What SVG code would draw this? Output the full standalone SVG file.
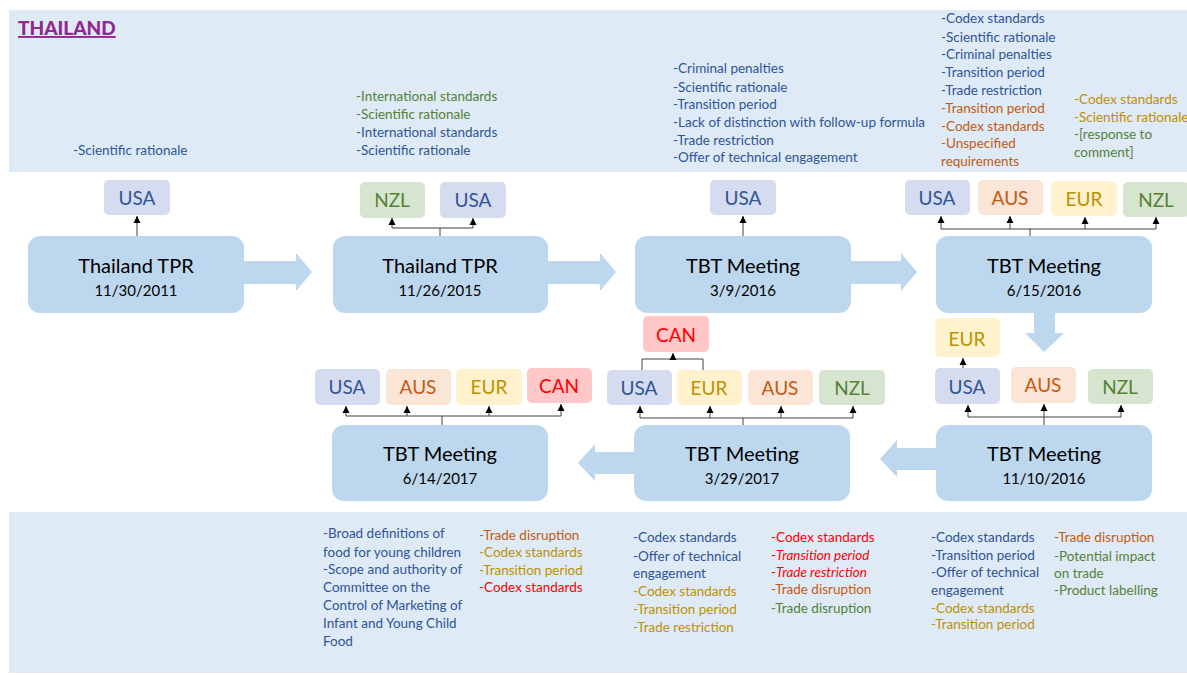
<svg xmlns="http://www.w3.org/2000/svg" width="1187" height="675" viewBox="0 0 1187 675">
<style>
.band{fill:#deeaf6}
.node{fill:#bdd7ee}
.big{fill:#bdd7ee}
.t1{font-family:Lato,"Liberation Sans",sans-serif;font-size:20px;fill:#000;text-anchor:middle}
.t2{font-family:Lato,"Liberation Sans",sans-serif;font-size:15px;fill:#000;text-anchor:middle}
.cty{font-family:Lato,"Liberation Sans",sans-serif;font-size:19px;text-anchor:middle}
.ann{font-family:Lato,"Liberation Sans",sans-serif;font-size:13.5px}
.usa{fill:#d6dcf0}.aus{fill:#fbe5d6}.eur{fill:#fff2cc}.nzl{fill:#d7e4d0}.can{fill:#ffc7c7}
.cb{fill:#2f5597}.co{fill:#c55a11}.cg{fill:#bf9000}.cn{fill:#548235}.cr{fill:#ff0000}
.ln{fill:none;stroke:#404040;stroke-width:1}
.ar{fill:none;stroke:#404040;stroke-width:1;marker-end:url(#ah)}
</style>
<defs>
<marker id="ah" markerWidth="8" markerHeight="8" refX="7" refY="4" orient="auto" markerUnits="userSpaceOnUse">
<path d="M0,0.5 L7,4 L0,7.5 Z" fill="#000"/>
</marker>
</defs>
<rect width="1187" height="675" fill="#fff"/>
<rect class="band" x="9" y="10" width="1178" height="162"/>
<rect class="band" x="9" y="512" width="1178" height="161"/>
<text x="18" y="35" font-family="Lato,'Liberation Sans',sans-serif" font-size="19" font-weight="900" fill="#92278f" text-decoration="underline">THAILAND</text>

<g id="annotations-top" class="ann">
<text x="73" y="155" class="cb">-Scientific rationale</text>
<text x="356" y="101" class="cn">-International standards</text>
<text x="356" y="119" class="cn">-Scientific rationale</text>
<text x="356" y="137" class="cb">-International standards</text>
<text x="356" y="155" class="cb">-Scientific rationale</text>
<text x="673" y="73" class="cb">-Criminal penalties</text>
<text x="673" y="92" class="cb">-Scientific rationale</text>
<text x="673" y="109" class="cb">-Transition period</text>
<text x="673" y="127" class="cb">-Lack of distinction with follow-up formula</text>
<text x="673" y="145" class="cb">-Trade restriction</text>
<text x="673" y="162" class="cb">-Offer of technical engagement</text>
<text x="941" y="23" class="cb">-Codex standards</text>
<text x="941" y="42" class="cb">-Scientific rationale</text>
<text x="941" y="59" class="cb">-Criminal penalties</text>
<text x="941" y="77" class="cb">-Transition period</text>
<text x="941" y="95" class="cb">-Trade restriction</text>
<text x="941" y="113" class="co">-Transition period</text>
<text x="941" y="131" class="co">-Codex standards</text>
<text x="941" y="148" class="co">-Unspecified</text>
<text x="941" y="166" class="co">requirements</text>
<text x="1074" y="104" class="cg">-Codex standards</text>
<text x="1074" y="122" class="cg">-Scientific rationale</text>
<text x="1074" y="139" class="cn">-[response to</text>
<text x="1074" y="157" class="cn">comment]</text>
</g>

<g id="annotations-bottom" class="ann">
<text x="323" y="538" class="cb">-Broad definitions of</text>
<text x="323" y="557" class="cb">food for young children</text>
<text x="323" y="574" class="cb">-Scope and authority of</text>
<text x="323" y="592" class="cb">Committee on the</text>
<text x="323" y="610" class="cb">Control of Marketing of</text>
<text x="323" y="628" class="cb">Infant and Young Child</text>
<text x="323" y="646" class="cb">Food</text>
<text x="479" y="540" class="co">-Trade disruption</text>
<text x="479" y="557" class="cg">-Codex standards</text>
<text x="479" y="575" class="cg">-Transition period</text>
<text x="479" y="592" class="cr">-Codex standards</text>
<text x="633" y="542" class="cb">-Codex standards</text>
<text x="633" y="561" class="cb">-Offer of technical</text>
<text x="633" y="578" class="cb">engagement</text>
<text x="633" y="596" class="cg">-Codex standards</text>
<text x="633" y="614" class="cg">-Transition period</text>
<text x="633" y="632" class="cg">-Trade restriction</text>
<text x="771" y="542" class="cr">-Codex standards</text>
<text x="771" y="560" class="cr">-<tspan font-style="italic">Transition period</tspan></text>
<text x="771" y="577" class="cr">-<tspan font-style="italic">Trade restriction</tspan></text>
<text x="771" y="594" class="co">-Trade disruption</text>
<text x="771" y="613" class="cn">-Trade disruption</text>
<text x="931" y="542" class="cb">-Codex standards</text>
<text x="931" y="560" class="cb">-Transition period</text>
<text x="931" y="577" class="cb">-Offer of technical</text>
<text x="931" y="595" class="cb">engagement</text>
<text x="931" y="613" class="cg">-Codex standards</text>
<text x="931" y="629" class="cg">-Transition period</text>
<text x="1054" y="542" class="co">-Trade disruption</text>
<text x="1054" y="561" class="cn">-Potential impact</text>
<text x="1054" y="578" class="cn">on trade</text>
<text x="1054" y="595" class="cn">-Product labelling</text>
</g>

<g id="flow-arrows" class="big">
<polygon points="244,261 296,261 296,253 312,272 296,291 296,284 244,284"/>
<polygon points="548,261 600,261 600,253 616,272 600,291 600,284 548,284"/>
<polygon points="851,261 901,261 901,253 917,272 901,291 901,284 851,284"/>
<polygon points="1034,313 1055,313 1055,333 1064,333 1044,352 1025,333 1034,333"/>
<polygon points="936,448 897,448 897,440 880,459 897,477 897,470 936,470"/>
<polygon points="634,452 595,452 595,444 578,463 595,481 595,474 634,474"/>
</g>

<g id="n1">
<rect class="node" x="28" y="236" width="216" height="77" rx="12"/>
<text class="t1" x="136" y="273">Thailand TPR</text>
<text class="t2" x="136" y="296">11/30/2011</text>
</g>
<g id="n2">
<rect class="node" x="333" y="236" width="215" height="77" rx="12"/>
<text class="t1" x="440" y="273">Thailand TPR</text>
<text class="t2" x="440" y="296">11/26/2015</text>
</g>
<g id="n3">
<rect class="node" x="635" y="236" width="216" height="77" rx="12"/>
<text class="t1" x="743" y="273">TBT Meeting</text>
<text class="t2" x="743" y="296">3/9/2016</text>
</g>
<g id="n4">
<rect class="node" x="936" y="236" width="216" height="77" rx="12"/>
<text class="t1" x="1044" y="273">TBT Meeting</text>
<text class="t2" x="1044" y="296">6/15/2016</text>
</g>
<g id="n5">
<rect class="node" x="936" y="425" width="216" height="76" rx="12"/>
<text class="t1" x="1044" y="461">TBT Meeting</text>
<text class="t2" x="1044" y="484">11/10/2016</text>
</g>
<g id="n6">
<rect class="node" x="634" y="425" width="216" height="76" rx="12"/>
<text class="t1" x="742" y="461">TBT Meeting</text>
<text class="t2" x="742" y="484">3/29/2017</text>
</g>
<g id="n7">
<rect class="node" x="332" y="425" width="216" height="76" rx="12"/>
<text class="t1" x="440" y="461">TBT Meeting</text>
<text class="t2" x="440" y="484">6/14/2017</text>
</g>

<g id="n1-usa"><rect class="usa" x="104" y="180" width="66" height="35" rx="5"/><text class="cty cb" x="137" y="205">USA</text></g>
<g id="n2-nzl"><rect class="nzl" x="360" y="182" width="65" height="36" rx="5"/><text class="cty cn" x="392" y="207">NZL</text></g>
<g id="n2-usa"><rect class="usa" x="440" y="182" width="66" height="36" rx="5"/><text class="cty cb" x="473" y="207">USA</text></g>
<g id="n3-usa"><rect class="usa" x="710" y="180" width="66" height="35" rx="5"/><text class="cty cb" x="743" y="205">USA</text></g>
<g id="n4-usa"><rect class="usa" x="905" y="180" width="65" height="35" rx="5"/><text class="cty cb" x="937" y="205">USA</text></g>
<g id="n4-aus"><rect class="aus" x="978" y="180" width="65" height="35" rx="5"/><text class="cty co" x="1010" y="205">AUS</text></g>
<g id="n4-eur"><rect class="eur" x="1051" y="181" width="66" height="35" rx="5"/><text class="cty cg" x="1084" y="206">EUR</text></g>
<g id="n4-nzl"><rect class="nzl" x="1123" y="182" width="66" height="35" rx="5"/><text class="cty cn" x="1156" y="207">NZL</text></g>
<g id="n5-eur"><rect class="eur" x="935" y="318" width="65" height="39" rx="5"/><text class="cty cg" x="967" y="346">EUR</text></g>
<g id="n5-usa"><rect class="usa" x="935" y="368" width="65" height="36" rx="5"/><text class="cty cb" x="967" y="394">USA</text></g>
<g id="n5-aus"><rect class="aus" x="1011" y="367" width="65" height="36" rx="5"/><text class="cty co" x="1043" y="392">AUS</text></g>
<g id="n5-nzl"><rect class="nzl" x="1088" y="369" width="65" height="35" rx="5"/><text class="cty cn" x="1120" y="394">NZL</text></g>
<g id="n6-can"><rect class="can" x="643" y="316" width="66" height="36" rx="5"/><text class="cty cr" x="676" y="342">CAN</text></g>
<g id="n6-usa"><rect class="usa" x="607" y="370" width="65" height="35" rx="5"/><text class="cty cb" x="639" y="395">USA</text></g>
<g id="n6-eur"><rect class="eur" x="677" y="370" width="65" height="35" rx="5"/><text class="cty cg" x="709" y="395">EUR</text></g>
<g id="n6-aus"><rect class="aus" x="748" y="370" width="65" height="35" rx="5"/><text class="cty co" x="780" y="395">AUS</text></g>
<g id="n6-nzl"><rect class="nzl" x="819" y="370" width="66" height="35" rx="5"/><text class="cty cn" x="852" y="395">NZL</text></g>
<g id="n7-usa"><rect class="usa" x="315" y="369" width="65" height="36" rx="5"/><text class="cty cb" x="347" y="394">USA</text></g>
<g id="n7-aus"><rect class="aus" x="386" y="369" width="65" height="36" rx="5"/><text class="cty co" x="418" y="394">AUS</text></g>
<g id="n7-eur"><rect class="eur" x="456" y="369" width="66" height="36" rx="5"/><text class="cty cg" x="489" y="394">EUR</text></g>
<g id="n7-can"><rect class="can" x="527" y="368" width="65" height="35" rx="5"/><text class="cty cr" x="559" y="393">CAN</text></g>

<g id="connectors">
<line class="ar" x1="137" y1="236" x2="137" y2="216"/>
<path class="ln" d="M440,236 V228 M392,228 H473"/>
<line class="ar" x1="392" y1="228" x2="392" y2="218"/>
<line class="ar" x1="473" y1="228" x2="473" y2="218"/>
<line class="ar" x1="743" y1="236" x2="743" y2="216"/>
<path class="ln" d="M1030,236 V229 M941,229 H1156"/>
<line class="ar" x1="941" y1="229" x2="941" y2="216"/>
<line class="ar" x1="1010" y1="229" x2="1010" y2="216"/>
<line class="ar" x1="1085" y1="229" x2="1085" y2="217"/>
<line class="ar" x1="1156" y1="229" x2="1156" y2="217"/>
<line class="ar" x1="963" y1="368" x2="963" y2="358"/>
<line class="ar" x1="1044" y1="425" x2="1044" y2="404"/>
<path class="ln" d="M968,417 H1121"/>
<line class="ar" x1="968" y1="417" x2="968" y2="405"/>
<line class="ar" x1="1121" y1="417" x2="1121" y2="405"/>
<path class="ln" d="M642,370 V359 H703 V370"/>
<line class="ar" x1="673" y1="359" x2="673" y2="353"/>
<path class="ln" d="M743,425 V418 M640,418 H853"/>
<line class="ar" x1="640" y1="418" x2="640" y2="406"/>
<line class="ar" x1="710" y1="418" x2="710" y2="406"/>
<line class="ar" x1="781" y1="418" x2="781" y2="406"/>
<line class="ar" x1="853" y1="418" x2="853" y2="406"/>
<path class="ln" d="M442,425 V416 M346,416 H561"/>
<line class="ar" x1="346" y1="416" x2="346" y2="406"/>
<line class="ar" x1="407" y1="416" x2="407" y2="406"/>
<line class="ar" x1="489" y1="416" x2="489" y2="406"/>
<line class="ar" x1="561" y1="416" x2="561" y2="404"/>
</g>
</svg>
